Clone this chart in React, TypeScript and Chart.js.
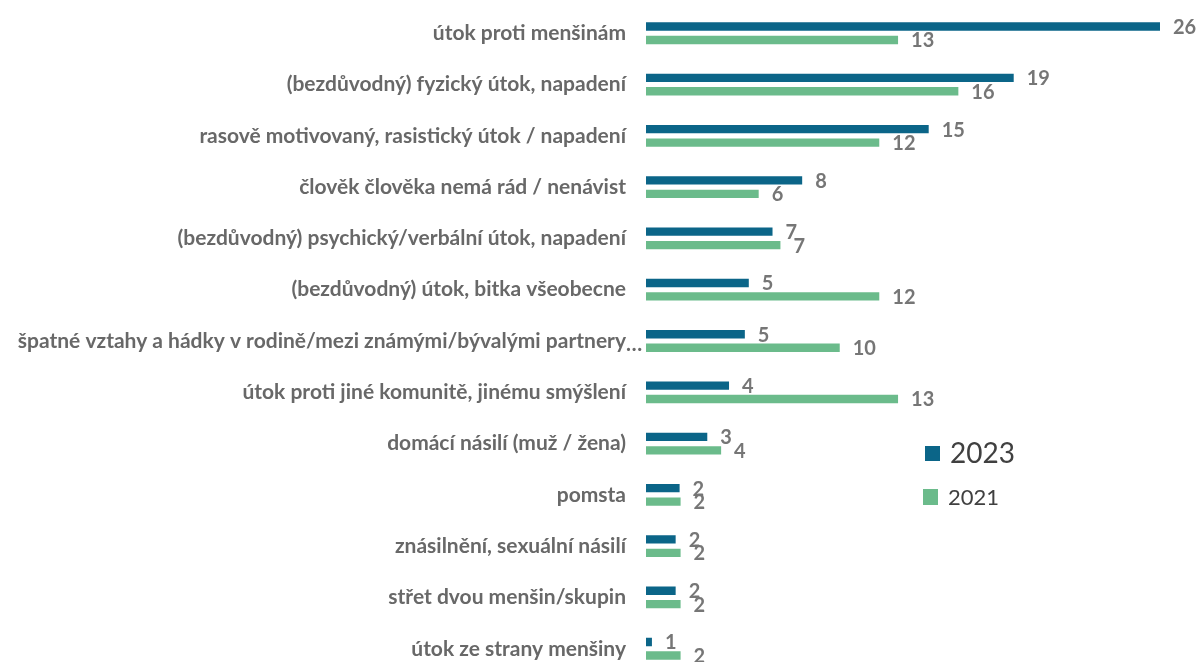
import React, { useEffect, useRef } from "react";
import { Chart, registerables } from "chart.js";

Chart.register(...registerables);

const categories = [
  "útok proti menšinám",
  "(bezdůvodný) fyzický útok, napadení",
  "rasově motivovaný, rasistický útok / napadení",
  "člověk člověka nemá rád / nenávist",
  "(bezdůvodný) psychický/verbální útok, napadení",
  "(bezdůvodný) útok, bitka všeobecne",
  "špatné vztahy a hádky v rodině/mezi známými/bývalými partnery…",
  "útok proti jiné komunitě, jinému smýšlení",
  "domácí násilí (muž / žena)",
  "pomsta",
  "znásilnění, sexuální násilí",
  "střet dvou menšin/skupin",
  "útok ze strany menšiny",
];

const values2023 = [26.0, 18.6, 14.3, 7.9, 6.4, 5.2, 5.0, 4.2, 3.1, 1.7, 1.5, 1.5, 0.3];
const values2021 = [12.75, 15.8, 11.8, 5.7, 6.8, 11.8, 9.8, 12.75, 3.8, 1.75, 1.75, 1.75, 1.75];
const labels2023 = ["26", "19", "15", "8", "7", "5", "5", "4", "3", "2", "2", "2", "1"];
const labels2021 = ["13", "16", "12", "6", "7", "12", "10", "13", "4", "2", "2", "2", "2"];

const seriesNames = ["2023", "2021"];
const seriesColors = ["#0b6588", "#6bbb8b"];
const xMax = 26;

const labelFont = "Lato";
const tickFontSize = 21;
const tickPadding = 20;
const shiftY = 25;

const valueLabelPlugin = {
  id: "valueLabels",
  afterDatasetsDraw(chart: any) {
    const ctx = chart.ctx;
    const sets = [labels2023, labels2021];
    ctx.save();
    ctx.font = `bold 20px ${labelFont}`;
    ctx.fillStyle = "#767676";
    ctx.textAlign = "left";
    ctx.textBaseline = "middle";
    chart.data.datasets.forEach((ds: any, di: number) => {
      const meta = chart.getDatasetMeta(di);
      meta.data.forEach((bar: any, i: number) => {
        ctx.fillText(sets[di][i], bar.x + 13, bar.y + 1);
      });
    });
    ctx.restore();
  },
};

const ellipsisPlugin = {
  id: "ellipsis",
  afterDraw(chart: any) {
    const ctx = chart.ctx;
    const yScale = chart.scales.y;
    ctx.save();
    ctx.font = `bold ${tickFontSize}px ${labelFont}`;
    ctx.fillStyle = "#686868";
    ctx.textAlign = "left";
    ctx.textBaseline = "middle";
    categories.forEach((c, i) => {
      if (c.endsWith("…")) {
        const y = yScale.getPixelForTick(i);
        ctx.fillText("…", yScale.right - tickPadding, y + 3);
      }
    });
    ctx.restore();
  },
};

const legendPlugin = {
  id: "customLegend",
  afterDraw(chart: any) {
    const ctx = chart.ctx;
    ctx.save();
    ctx.textBaseline = "middle";
    ctx.textAlign = "left";
    ctx.fillStyle = chart.data.datasets[0].backgroundColor;
    ctx.fillRect(925, 446 + shiftY, 15, 15);
    ctx.fillStyle = "#404040";
    ctx.font = `28px ${labelFont}`;
    ctx.fillText(chart.data.datasets[0].label, 950, 454 + shiftY);
    ctx.fillStyle = chart.data.datasets[1].backgroundColor;
    ctx.fillRect(923, 489 + shiftY, 15, 16);
    ctx.fillStyle = "#404040";
    ctx.font = `22px ${labelFont}`;
    ctx.fillText(chart.data.datasets[1].label, 948, 498 + shiftY);
    ctx.restore();
  },
};

export default function App() {
  const canvasRef = useRef<HTMLCanvasElement | null>(null);

  useEffect(() => {
    if (!canvasRef.current) return;
    const chart = new Chart(canvasRef.current, {
      type: "bar",
      data: {
        labels: categories,
        datasets: [
          {
            label: seriesNames[0],
            data: values2023,
            backgroundColor: seriesColors[0],
            categoryPercentage: 0.525,
            barPercentage: 0.62,
          },
          {
            label: seriesNames[1],
            data: values2021,
            backgroundColor: seriesColors[1],
            categoryPercentage: 0.525,
            barPercentage: 0.62,
          },
        ],
      },
      options: {
        indexAxis: "y",
        responsive: false,
        animation: false,
        layout: { padding: { top: 5, bottom: 6, left: 0, right: 37 } },
        plugins: {
          legend: { display: false },
          tooltip: { enabled: false },
        },
        scales: {
          x: {
            display: false,
            min: 0,
            max: xMax,
          },
          y: {
            grid: { display: false, drawTicks: false },
            border: { display: false },
            ticks: {
              padding: tickPadding,
              color: "#686868",
              font: { family: labelFont, size: tickFontSize, weight: "bold" },
              callback: (_v: any, i: number) => categories[i].replace(/…$/, ""),
            },
            afterFit(scale: any) {
              scale.width = 646;
            },
          },
        },
      },
      plugins: [valueLabelPlugin, ellipsisPlugin, legendPlugin],
    });
    return () => chart.destroy();
  }, []);

  return (
    <div
      style={{
        position: "fixed",
        left: 0,
        top: 0,
        width: 1197,
        height: 662,
        overflow: "hidden",
        background: "#ffffff",
      }}
    >
      <canvas
        ref={canvasRef}
        width={1197}
        height={732}
        style={{ display: "block", marginTop: -shiftY }}
      />
    </div>
  );
}
